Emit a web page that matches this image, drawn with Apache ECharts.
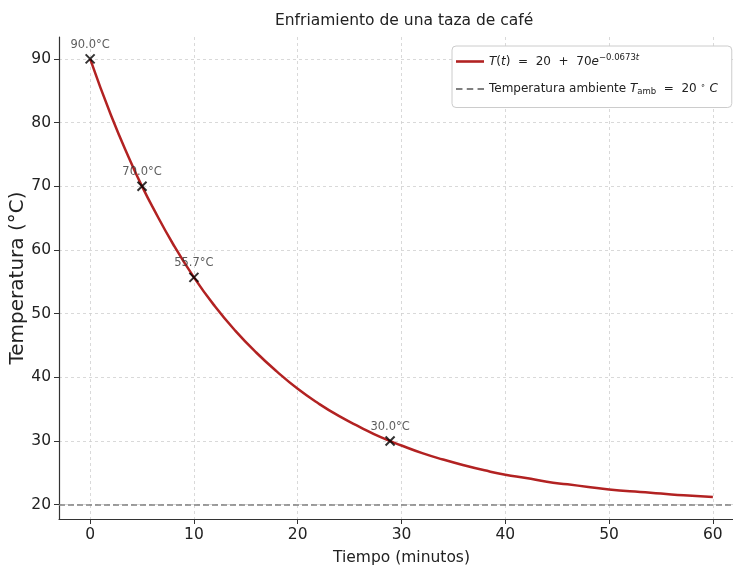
<!DOCTYPE html>
<html>
<head>
<meta charset="utf-8">
<script src="https://cdn.jsdelivr.net/npm/echarts@6/dist/echarts.min.js"></script>
<style>html,body{margin:0;padding:0;background:#fff}#c{width:733px;height:568px}</style>
</head>
<body>
<div id="c"></div>
<script>
// Data
const timeMin = [0,2,4,5,6,8,10,12,14,16,18,20,22,24,26,28,30,32,34,36,38,40,42,44,46,48,50,52,54,56,58,60];
const tempC   = [90,81.2,73.5,70.0,66.8,60.9,55.7,51.2,47.3,43.9,40.9,38.2,35.9,33.9,32.2,30.6,29.3,28.1,27.1,26.2,25.4,24.7,24.2,23.6,23.2,22.8,22.4,22.1,21.9,21.6,21.4,21.2];
const markTime = [0,5,10,28.9];
const markTemp = [90,70.0,55.7,30.0];
const ambientTemp = 20;
const xTicks = [0,10,20,30,40,50,60];
const yTicks = [20,30,40,50,60,70,80,90];
const titleText = 'Enfriamiento de una taza de café';
const xName = 'Tiempo (minutos)';
const yName = 'Temperatura (°C)';

const FONT = 'DejaVu Sans';
const chart = echarts.init(document.getElementById('c'), null, {renderer:'canvas'});
const gridLine = {show:true, lineStyle:{color:'#d0d0d0', type:[3,3], width:0.8}};
chart.setOption({
  animation:false,
  backgroundColor:'#fff',
  title:{text:titleText, left:270, top:8, textStyle:{fontFamily:FONT, fontSize:15.5, fontWeight:'normal', color:'#222'}},
  grid:{left:59, right:-11, top:37, bottom:49, containLabel:false, outerBoundsMode:'none'},
  legend:{
    orient:'vertical', left:452, top:46,
    backgroundColor:'#fff', borderColor:'#cccccc', borderWidth:1, borderRadius:4,
    padding:[7,14,11,4], itemGap:14, itemWidth:28, itemHeight:16, symbolKeepAspect:true,
    textStyle:{fontFamily:FONT, fontSize:12, color:'#222',
      rich:{
        i:{fontStyle:'italic', fontFamily:FONT, fontSize:12, color:'#222'},
        sup:{fontFamily:FONT, fontSize:8.5, color:'#222', padding:[0,0,8,0]},
        supi:{fontStyle:'italic', fontFamily:FONT, fontSize:8.5, color:'#222', padding:[0,0,8,0]},
        sub:{fontFamily:FONT, fontSize:8.5, color:'#222', padding:[6,0,0,0]},
        deg:{fontFamily:FONT, fontSize:8, color:'#222', padding:[0,0,7,0]}
      }},
    formatter:function(n){
      if(n==='curve') return '{i|T}({i|t})  =  20  +  70{i|e}{sup|−0.0673}{supi|t}';
      return 'Temperatura ambiente {i|T}{sub|amb}  =  20 {deg|∘} {i|C}';
    },
    data:[
      {name:'curve', icon:'path://M0,0H28V2.6H0Z'},
      {name:'amb', icon:'path://M0,0H6V1.8H0Z M10,0H16V1.8H10Z M20,0H26V1.8H20Z', itemStyle:{color:'#808080'}}
    ]
  },
  xAxis:{type:'value', min:-3, max:63,
    name:xName, nameLocation:'middle', nameGap:31, nameMoveOverlap:false,
    nameTextStyle:{fontFamily:FONT, fontSize:15.5, color:'#222'},
    axisLine:{show:true, onZero:false, lineStyle:{color:'#333', width:1.2}},
    axisTick:{show:true, customValues:xTicks, length:5, lineStyle:{color:'#333', width:1}},
    axisLabel:{customValues:xTicks, fontFamily:FONT, fontSize:15.5, color:'#222', margin:8},
    splitLine:gridLine},
  yAxis:{type:'value', min:17.76, max:93.44,
    name:yName, nameLocation:'middle', nameGap:31, nameRotate:90, nameMoveOverlap:false,
    nameTextStyle:{fontFamily:FONT, fontSize:20, color:'#222'},
    axisLine:{show:true, onZero:false, lineStyle:{color:'#333', width:1.2}},
    axisTick:{show:true, customValues:yTicks, length:5, lineStyle:{color:'#333', width:1}},
    axisLabel:{customValues:yTicks, fontFamily:FONT, fontSize:15.5, color:'#222', margin:8},
    splitLine:gridLine},
  series:[
    {name:'curve', type:'line', smooth:true, symbol:'none', showSymbol:false, z:3,
     data:timeMin.map((t,i)=>[t,tempC[i]]),
     lineStyle:{color:'#b22222', width:2.5}, itemStyle:{color:'#b22222'}},
    {name:'amb', type:'line', data:[], symbol:'none', showSymbol:false,
     lineStyle:{color:'#808080', width:1.7, type:[6,3]}, itemStyle:{color:'#808080'},
     markLine:{silent:true, symbol:'none', label:{show:false},
       lineStyle:{color:'#808080', width:1.7, type:[6,3]},
       data:[{yAxis:ambientTemp}]}},
    {name:'marks', type:'scatter', z:5,
     symbol:'path://M0,0L10,10M10,0L0,10', symbolSize:9,
     itemStyle:{color:'none', borderColor:'#000', borderWidth:2},
     data:markTime.map((t,i)=>[t,markTemp[i]]),
     label:{show:true, position:'top', distance:1, fontFamily:FONT, fontSize:11.5, color:'#333',
       formatter:p=>p.value[1].toFixed(1)+'°C'}}
  ]
});
</script>
</body>
</html>
